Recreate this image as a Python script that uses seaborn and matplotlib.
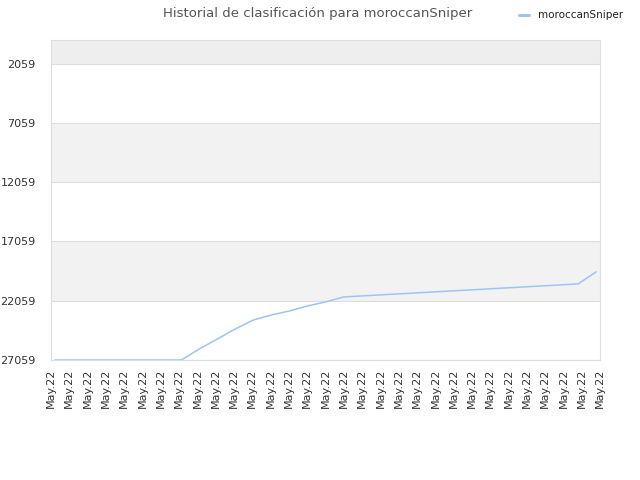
import numpy as np
import pandas as pd
import matplotlib
matplotlib.use("Agg")
import matplotlib.pyplot as plt
from matplotlib.lines import Line2D
import seaborn as sns

# ranking history (lower is better, axis inverted)
positions = [27059, 27059, 27059, 27059, 27059, 27059, 27059, 27059,
             26130, 25286, 24441, 23681, 23259, 22921, 22499, 22161,
             21739, 21654, 21569, 21485, 21400, 21316, 21231, 21147,
             21062, 20978, 20893, 20809, 20724, 20640, 19627]
dates = ["May.22"] * len(positions)
y_ticks = [2059, 7059, 12059, 17059, 22059, 27059]
player = "moroccanSniper"

df = pd.DataFrame({"idx": range(len(positions)), "rank": positions})

sns.set_style("white")
plt.rcParams["font.family"] = ["DejaVu Sans"]

line_col = "#9cc5f2"

fig = plt.figure(figsize=(6.4, 4.8), dpi=100)
ax = fig.add_axes([0.0797, 0.25, 0.858, 0.6667])

sns.lineplot(data=df, x="idx", y="rank", ax=ax, color=line_col,
             linewidth=1.1, legend=False)

ymin, ymax = 59, 27059
ax.set_ylim(ymax, ymin)
x0, x1 = -0.22, len(positions) - 1 + 0.22
ax.set_xlim(x0, x1)

# alternating background bands
edges = [ymin] + y_ticks
for i in range(len(edges) - 1):
    if i % 2 == 0:
        col = "#eeeeee" if i == 0 else "#f2f2f2"
        ax.axhspan(edges[i], edges[i + 1], color=col, zorder=0, lw=0)

ax.set_yticks(y_ticks)
ax.set_yticklabels([str(v) for v in y_ticks])
ax.yaxis.grid(True, color="#dddddd", linewidth=0.8)
ax.set_axisbelow(True)

ax.set_xticks(np.linspace(x0, x1, len(dates)))
ax.set_xticklabels(dates, rotation=90)

ax.tick_params(axis="both", length=0, labelsize=8, colors="#333333")
ax.tick_params(axis="y", pad=11)
ax.tick_params(axis="x", pad=6)
ax.set_xlabel("")
ax.set_ylabel("")
for s in ax.spines.values():
    s.set_color("#dddddd")
    s.set_linewidth(0.8)

fig.text(0.497, 0.972, "Historial de clasificación para " + player,
         ha="center", va="center", fontsize=9.5, color="#555555")
handle = Line2D([], [], color=line_col, linewidth=2.2)
fig.legend(handles=[handle], labels=[player], loc="center left",
           bbox_to_anchor=(0.796, 0.968), frameon=False, fontsize=7.5,
           handlelength=1.0, handletextpad=0.85, labelcolor="#222222")

fig.savefig("out.png", dpi=100)
